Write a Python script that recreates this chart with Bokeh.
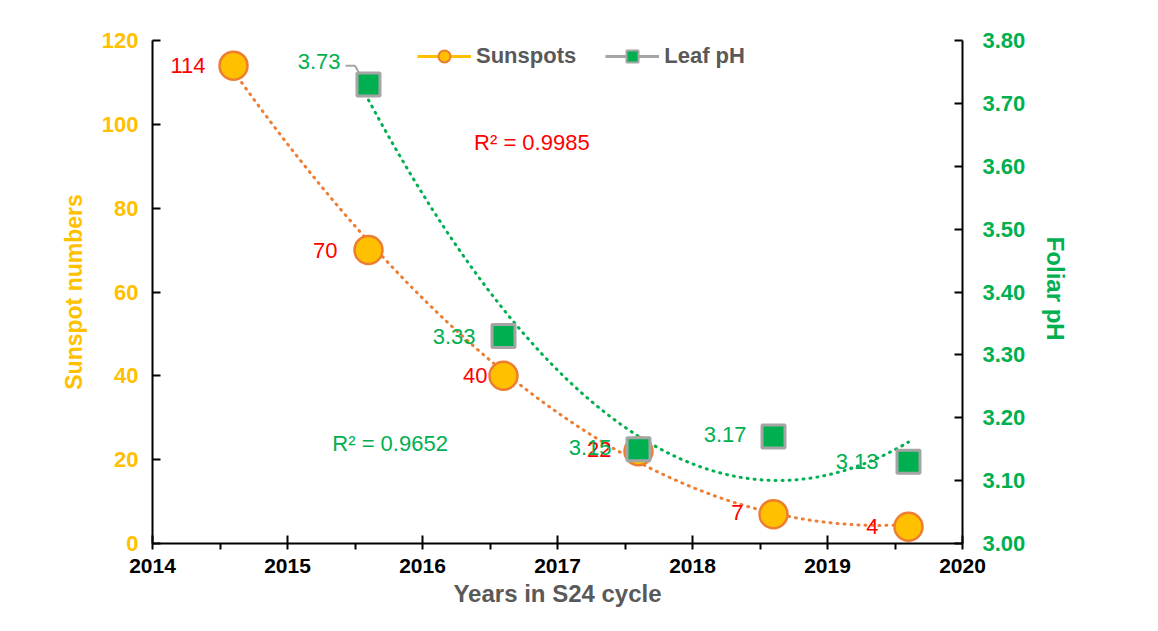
import numpy as np
from bokeh.plotting import figure
from bokeh.models import (ColumnDataSource, LinearAxis, Range1d, FixedTicker, LabelSet,
                          Label, Legend, LegendItem, NumeralTickFormatter)
from bokeh.core.properties import value
from bokeh.embed import file_html
from bokeh.resources import INLINE

# ---- data ----
years = [2014.6, 2015.6, 2016.6, 2017.6, 2018.6, 2019.6]
sunspots = [114, 70, 40, 22, 7, 4]
ph_years = [2015.6, 2016.6, 2017.6, 2018.6, 2019.6]
leaf_ph = [3.73, 3.33, 3.15, 3.17, 3.13]
x_ticks = [2014, 2015, 2016, 2017, 2018, 2019, 2020]
x_minor = [2014.5, 2015.5, 2016.5, 2017.5, 2018.5, 2019.5]
y_ticks = [0, 20, 40, 60, 80, 100, 120]
ph_ticks = [3.0, 3.1, 3.2, 3.3, 3.4, 3.5, 3.6, 3.7, 3.8]
r2_sun = "R\u00b2 = 0.9985"
r2_ph = "R\u00b2 = 0.9652"

# label offsets (style)
sun_xo = [-28, -31, -16, -27, -30, -30]
sun_yo = [0, 0, 0, 2, 2, 0]
ph_xo = [-28, -28, -27, -27, -30]
ph_yo = [23, 0, 2, 2, 0]

FONT = "Liberation Sans"
YEL = "#FFC000"
ORA = "#ED7D31"
GRN = "#00B050"
GRY = "#A5A5A5"

p = figure(width=1142, height=615, output_backend="svg", toolbar_location=None,
           x_range=Range1d(2014, 2020), y_range=Range1d(0, 120),
           min_border_left=152, min_border_right=180, min_border_top=40, min_border_bottom=72,
           background_fill_color="white", border_fill_color="white")
p.outline_line_color = None
p.grid.visible = False
p.extra_y_ranges = {"ph": Range1d(3.0, 3.8)}

# x axis
xa = p.xaxis[0]
xa.ticker = FixedTicker(ticks=x_ticks, minor_ticks=x_minor)
xa.axis_label = "Years in S24 cycle"
xa.axis_label_text_font = FONT
xa.axis_label_text_font_style = "bold"
xa.axis_label_text_font_size = "24px"
xa.axis_label_text_color = "#595959"
xa.axis_label_standoff = 4
xa.major_label_text_font = FONT
xa.major_label_text_font_style = "bold"
xa.major_label_text_font_size = "21px"
xa.major_label_text_color = "black"
xa.major_label_standoff = 9
xa.axis_line_width = 2
xa.major_tick_line_width = 2
xa.minor_tick_line_width = 2
xa.major_tick_in = 8
xa.major_tick_out = 6
xa.minor_tick_in = 0
xa.minor_tick_out = 6

# left axis
ya = p.yaxis[0]
ya.ticker = FixedTicker(ticks=y_ticks, minor_ticks=[])
ya.axis_label = "Sunspot numbers"
ya.axis_label_text_font = FONT
ya.axis_label_text_font_style = "bold"
ya.axis_label_text_font_size = "23px"
ya.axis_label_text_color = YEL
ya.axis_label_standoff = 12
ya.major_label_text_font = FONT
ya.major_label_text_font_style = "bold"
ya.major_label_text_font_size = "22px"
ya.major_label_text_color = YEL
ya.major_label_standoff = 14
ya.axis_line_width = 2
ya.major_tick_line_width = 2
ya.major_tick_in = 8
ya.major_tick_out = 0
ya.minor_tick_line_color = None

# right axis
ra = LinearAxis(y_range_name="ph", ticker=FixedTicker(ticks=ph_ticks, minor_ticks=[]),
                formatter=NumeralTickFormatter(format="0.00"))
ra.axis_label = "Foliar  pH"
ra.axis_label_orientation = "vertical"
ra.axis_label_text_font = FONT
ra.axis_label_text_font_style = "bold"
ra.axis_label_text_font_size = "24px"
ra.axis_label_text_color = GRN
ra.axis_label_standoff = 14
ra.major_label_text_font = FONT
ra.major_label_text_font_style = "bold"
ra.major_label_text_font_size = "22px"
ra.major_label_text_color = GRN
ra.major_label_standoff = 20
ra.axis_line_width = 2
ra.major_tick_line_width = 2
ra.major_tick_in = 8
ra.major_tick_out = 0
ra.minor_tick_line_color = None
p.add_layout(ra, "right")

# trend lines (quadratic fits)
cs = np.polyfit(years, sunspots, 2)
xs = np.linspace(years[0], years[-1], 200)
p.line(xs, np.polyval(cs, xs), line_color=ORA, line_width=3, line_dash="1 6", line_cap="round")
cp = np.polyfit(ph_years, leaf_ph, 2)
xp = np.linspace(ph_years[0], ph_years[-1], 200)
p.line(xp, np.polyval(cp, xp), line_color=GRN, line_width=3, line_dash="1 6", line_cap="round",
       y_range_name="ph")

# leader line for first pH label
x0, y0 = ph_years[0], leaf_ph[0]
p.line([x0 - 0.17, x0 - 0.10, x0 - 0.035], [y0 + 0.03, y0 + 0.03, y0 + 0.005],
       line_color=GRY, line_width=2, y_range_name="ph")

# markers
p.scatter(years, sunspots, marker="circle", size=28, fill_color=YEL, line_color=ORA, line_width=2.5)
p.scatter(ph_years, leaf_ph, marker="square", size=23, fill_color=GRN, line_color=GRY, line_width=3,
          y_range_name="ph")

# data labels
sun_src = ColumnDataSource(dict(x=years, y=sunspots, t=[str(v) for v in sunspots], xo=sun_xo, yo=sun_yo))
p.add_layout(LabelSet(x="x", y="y", text="t", source=sun_src, x_offset="xo", y_offset="yo",
                      text_align="right", text_baseline="middle", text_color="#FF0000",
                      text_font=value(FONT), text_font_size="22px"))
ph_src = ColumnDataSource(dict(x=ph_years, y=leaf_ph, t=["%.2f" % v for v in leaf_ph], xo=ph_xo, yo=ph_yo))
p.add_layout(LabelSet(x="x", y="y", text="t", source=ph_src, x_offset="xo", y_offset="yo",
                      text_align="right", text_baseline="middle", text_color=GRN,
                      text_font=value(FONT), text_font_size="22px", y_range_name="ph"))

# R² labels
p.add_layout(Label(x=2016.81, y=95.7, text=r2_sun, text_align="center", text_baseline="middle",
                   text_color="#FF0000", text_font=FONT, text_font_size="22px"))
p.add_layout(Label(x=2015.76, y=3.159, text=r2_ph, text_align="center", text_baseline="middle",
                   text_color=GRN, text_font=FONT, text_font_size="22px", y_range_name="ph"))

# legend with dummy renderers
l1 = p.line([np.nan], [np.nan], line_color=YEL, line_width=3)
s1 = p.scatter([np.nan], [np.nan], marker="circle", fill_color=YEL, line_color=ORA, line_width=2)
l2 = p.line([np.nan], [np.nan], line_color=GRY, line_width=3)
s2 = p.scatter([np.nan], [np.nan], marker="square", fill_color=GRN, line_color=GRY, line_width=2)
legend = Legend(items=[LegendItem(label="Sunspots", renderers=[l1, s1]),
                       LegendItem(label="Leaf pH", renderers=[l2, s2])],
                orientation="horizontal", location=(265, 472),
                glyph_width=54, glyph_height=30, label_standoff=5, spacing=29,
                padding=0, margin=0, border_line_color=None, background_fill_alpha=0,
                label_text_font=FONT, label_text_font_style="bold", label_text_font_size="22px",
                label_text_color="#595959")
p.add_layout(legend, "center")

open("out.html", "w").write(file_html(p, INLINE))
